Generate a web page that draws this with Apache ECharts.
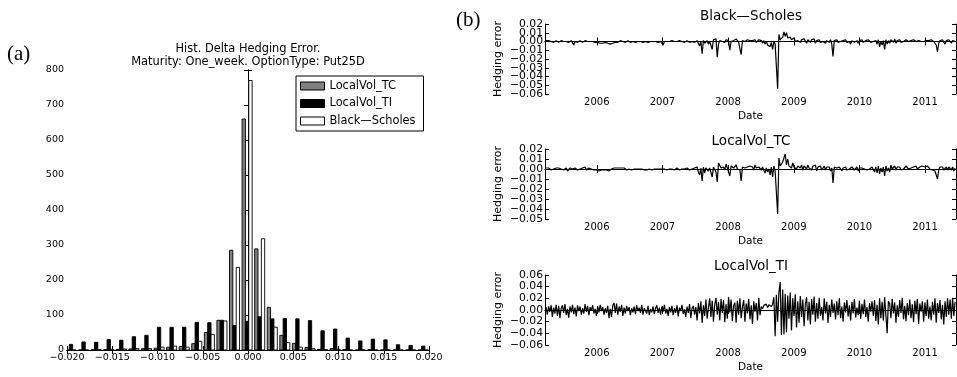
<!DOCTYPE html>
<html>
<head>
<meta charset="utf-8">
<script src="https://cdn.jsdelivr.net/npm/echarts@6/dist/echarts.min.js"></script>
<style>html,body{margin:0;padding:0;background:#fff}#c{width:957px;height:377px}</style>
</head>
<body>
<div id="c"></div>
<script>
// ---------- (a) histogram data ----------
const binCenters = [-0.01956,-0.01817,-0.01678,-0.01539,-0.0140,-0.01261,-0.01122,-0.00983,-0.00844,-0.00705,
  -0.00566,-0.00427,-0.00288,-0.00149,-0.0001,0.00129,0.00268,0.00407,0.00546,0.00685,
  0.00824,0.00963,0.01102,0.01241,0.0138,0.01519,0.01658,0.01797,0.01936];
const binWidth = 0.00139;
const histTC = [0,0,1,1,2,3,4,5,8,10,18,50,85,285,660,289,122,42,19,7,2,4,1,0,1,0,0,0,0];
const histTI = [16,23,22,30,28,38,42,65,65,65,79,78,85,70,82,95,89,90,89,84,55,60,34,26,31,29,15,13,11];
const histBS = [0,0,1,2,3,4,4,8,11,8,25,44,83,236,770,318,65,21,8,4,1,2,0,0,0,0,0,0,0];

// ---------- (b) tick labels of the crowded error axes (split in two interleaved sets) ----------
const bsYLabelsA = [-0.06, -0.04, -0.02, 0.00, 0.02];
const bsYLabelsB = [-0.05, -0.03, -0.01, 0.01];
const tcYLabelsA = [-0.05, -0.03, -0.01, 0.01];
const tcYLabelsB = [-0.04, -0.02, 0.00, 0.02];
const tiYLabels = [-0.06, -0.04, -0.02, 0.00, 0.02, 0.04, 0.06];

// ---------- (b) weekly hedging errors (read in units of 0.001) ----------
const ERR_UNIT = 0.001;
const firstWeek = Date.UTC(2005, 2, 25);
const WEEK_MS = 7 * 86400000;
const bsErr = [
 1,0,1,-1,0,1,-1,0,1,0,
 -1,0,1,-1,0,-2,0,1,-1,0,
 1,-1,-4,0,1,-1,0,1,0,-1,
 0,1,-1,0,1,0,-1,0,1,-1,
 0,-1,-1,-2,-1,-2,-2,-1,-2,-2,
 -1,-3,-1,-2,0,-1,1,-1,0,1,
 -1,0,1,-1,0,1,0,-1,-2,0,
 0,-1,0,0,1,0,0,-1,0,0,
 0,-1,0,0,1,0,-1,0,0,-1,
 0,0,-1,-4,0,1,0,-1,0,0,
 1,0,0,-1,0,0,1,-1,0,0,
 -1,0,1,0,-1,0,0,1,-1,0,
 1,-1,-5,0,-14,1,-2,0,1,-3,
 0,1,-9,2,0,3,-18,-3,1,2,
 0,1,-1,2,0,1,-10,0,2,1,
 0,3,1,-1,0,-15,1,2,0,1,
 2,0,1,3,1,0,2,-1,1,2,
 0,1,-2,1,-3,0,-4,-2,-6,-1,
 -9,0,-3,-5,-54,8,2,4,5,11,
 6,10,4,3,5,2,1,4,0,2,
 1,3,-1,2,0,3,1,-2,2,1,
 -1,2,0,3,-2,1,0,2,-1,1,
 0,2,-2,1,0,-1,2,-3,-17,1,
 0,2,-1,1,0,-2,1,0,2,-1,
 1,0,-3,1,2,-1,0,1,-2,1,
 0,2,-1,0,1,-1,2,0,-1,1,
 0,-2,1,-3,2,-6,0,-4,1,-9,
 2,-3,1,-2,2,0,-1,3,-2,1,
 0,2,-1,1,0,-1,2,1,0,2,
 1,0,2,1,0,-1,1,2,0,1,
 0,2,1,-1,1,0,2,1,0,-2,
 -4,-12,-2,1,-1,2,0,-3,1,-1,
 2,0,-2,1,-1,0];
const tcErr = [
 1,-1,1,0,-1,1,0,-1,1,0,
 1,-1,0,1,-1,0,1,-2,0,1,
 -1,0,-2,1,0,-1,1,0,-1,1,
 0,2,-1,0,1,-1,0,1,-1,0,
 -1,0,-2,-1,-1,-2,-1,-2,-1,0,
 -2,-1,0,-1,1,0,1,-1,1,0,
 1,0,1,0,-1,1,0,0,-1,0,
 0,-1,0,0,0,-1,0,0,-1,0,
 -1,-2,0,0,-1,0,0,-1,0,-1,
 0,-1,0,-2,0,0,-1,0,0,-1,
 0,0,-1,0,1,0,-1,0,0,1,
 0,-1,1,0,-1,1,0,-1,1,0,
 2,-3,-6,1,-12,2,-4,1,3,-2,
 1,3,-8,2,1,-3,-13,6,4,1,
 3,2,-1,5,1,2,-7,3,4,1,
 2,4,0,2,-1,-12,2,4,1,3,
 2,0,3,1,2,-1,4,1,0,2,
 1,-1,2,0,-4,1,-3,0,-6,2,
 -8,3,-2,-1,-45,11,3,5,7,9,
 15,4,10,3,5,1,6,2,4,0,
 3,5,1,4,-1,3,2,0,4,1,
 2,-1,3,1,4,-2,2,0,3,-1,
 1,3,-1,2,0,2,-2,1,-14,2,
 0,1,-1,2,0,-2,1,0,2,-1,
 1,0,-2,2,1,-1,0,2,-2,1,
 0,1,-1,0,2,-1,1,0,-1,2,
 0,-3,2,-4,3,-5,1,-3,2,-7,
 3,-2,1,-3,4,0,-2,3,-1,2,
 0,2,-1,1,0,-1,3,1,0,2,
 1,0,2,1,3,0,1,2,0,3,
 1,2,0,3,1,0,2,-1,0,-2,
 -3,-10,-1,2,0,2,-1,-3,2,-1,
 2,0,-1,2,-2,1];
const tiErr = [
 5,-8,6,-3,8,-12,4,-6,9,-10,
 7,-14,3,8,-5,10,-9,2,-13,6,
 -4,9,-7,4,-11,8,-2,6,-8,3,
 -6,10,-3,7,-9,5,-1,8,-6,2,
 -10,6,-4,9,-2,5,-8,3,-5,7,
 -14,2,-12,8,12,-5,11,-8,6,-3,
 9,-10,4,-6,7,-2,5,-9,3,-4,
 6,-7,8,-2,4,-5,9,-8,3,5,
 -6,7,-9,2,-4,6,-7,3,8,-5,
 4,-8,6,-3,9,-6,2,-10,5,-4,
 7,-9,3,-5,8,-11,4,-2,9,-7,
 1,-12,6,-5,10,-14,3,7,-8,5,
 -18,12,-6,15,-22,8,-10,18,-15,4,
 20,-12,16,-20,9,21,-8,14,-18,19,
 -5,17,-21,10,-15,22,-4,18,-19,7,
 13,-22,16,-8,20,-14,5,17,-20,11,
 -6,19,-16,8,-24,15,-3,12,-18,21,
 -9,6,2,8,5,10,4,9,12,6,
 10,22,-45,26,-20,30,48,-43,35,-42,
 28,-38,25,-15,30,-35,20,-10,27,-30,
 15,-22,24,-12,18,-28,10,22,-18,14,
 -25,19,-8,23,-20,12,-15,21,-10,5,
 -18,20,-6,14,-22,9,-12,18,-5,11,
 -16,15,-9,20,-14,6,-20,13,-4,17,
 -11,8,-18,14,-6,19,-13,4,-9,16,
 -15,10,-7,18,-12,5,-20,12,-3,15,
 -10,17,-19,9,-25,20,-14,14,-18,22,
 -8,-40,15,11,-14,19,-6,13,-22,8,
 -12,17,-5,21,-16,7,-19,12,-9,18,
 -14,10,-21,16,-7,19,-24,11,-3,15,
 -20,13,-10,18,-15,6,-18,14,-8,20,
 -22,12,-5,17,-16,9,-25,15,-12,20,
 -8,18,-15,21,-10,14];

// ---------- build ----------
const weekDates = bsErr.map((_, i) => firstWeek + i * WEEK_MS);
const toSeries = arr => arr.map((v, i) => [weekDates[i], v * ERR_UNIT]);
const FONT = 'DejaVu Sans';
const minus = s => s.replace('-', '\u2212');
const fmt2 = v => minus((Math.abs(v) < 1e-9 ? 0 : v).toFixed(2));

const histNames = ['LocalVol_TC', 'LocalVol_TI', 'Black\u2014Scholes'];
const histFill = ['#808080', '#000000', '#ffffff'];
const histSets = [histTC, histTI, histBS];

function histSeries(j) {
  return {
    type: 'custom', name: histNames[j], xAxisIndex: 0, yAxisIndex: 0, clip: true,
    itemStyle: { color: histFill[j], borderColor: '#000', borderWidth: 1 },
    encode: { x: 0, y: 1 },
    data: binCenters.map((c, i) => [c, histSets[j][i]]),
    renderItem: function (params, api) {
      const c = api.value(0), v = api.value(1);
      const w = binWidth * 0.8 / 3;
      const x0 = c - binWidth * 0.4 + j * w;
      const p0 = api.coord([x0, v]);
      const p1 = api.coord([x0 + w, 0]);
      return { type: 'rect',
        shape: { x: p0[0], y: p0[1], width: p1[0] - p0[0], height: p1[1] - p0[1] },
        style: { fill: histFill[j], stroke: '#000', lineWidth: 0.9 } };
    }
  };
}

const axLine = { show: true, lineStyle: { color: '#000', width: 1 } };
const axTick = { show: true, inside: true, length: 4, lineStyle: { color: '#000', width: 1 } };

function valAxis(extra) {
  return Object.assign({ type: 'value', axisLine: axLine, axisTick: axTick, splitLine: { show: false } }, extra);
}
const tMin = Date.UTC(2005, 2, 19), tMax = Date.UTC(2011, 5, 22);
const YEAR_MS = 365 * 86400000;
function timeAxis(grid, pos, withLabels) {
  return {
    type: 'time', gridIndex: grid, position: pos, min: tMin, max: tMax,
    minInterval: YEAR_MS, maxInterval: 366 * 86400000,
    axisLine: axLine, splitLine: { show: false },
    axisTick: axTick,
    axisLabel: withLabels ? { show: true, showMinLabel: false, showMaxLabel: false,
      formatter: v => String(new Date(v).getUTCFullYear()),
      color: '#000', fontSize: 10, fontFamily: FONT, margin: 3 } : { show: false },
    name: withLabels ? 'Date' : '', nameLocation: 'middle', nameGap: 17,
    nameTextStyle: { color: '#000', fontSize: 10.5, fontFamily: FONT }
  };
}
const errLabel = vals => ({ color: '#000', fontSize: 10.8, fontFamily: FONT, margin: 2,
  customValues: vals, showMinLabel: true, showMaxLabel: true, formatter: fmt2 });
function errY(grid, min, max, interval, labelsA, labelsB) {
  const axes = [
    valAxis({ gridIndex: grid, min: min, max: max, interval: interval,
      axisLabel: errLabel(labelsA),
      name: 'Hedging error', nameLocation: 'middle', nameRotate: 90, nameGap: 41,
      nameTextStyle: { color: '#000', fontSize: 11, fontFamily: FONT } }),
    valAxis({ gridIndex: grid, position: 'right', min: min, max: max, interval: interval, axisLabel: { show: false } })
  ];
  if (labelsB) {
    axes.push({ type: 'value', gridIndex: grid, position: 'left', min: min, max: max, interval: interval,
      axisLine: { show: false }, axisTick: { show: false }, splitLine: { show: false },
      axisLabel: errLabel(labelsB) });
  }
  return axes;
}

const titleStyle = size => ({ fontSize: size, fontWeight: 'normal', color: '#000', fontFamily: FONT });

const yAxes = [
  valAxis({ gridIndex: 0, min: 0, max: 800, interval: 100,
    axisLabel: { color: '#000', fontSize: 9.5, fontFamily: FONT, margin: 3 } }),
  valAxis({ gridIndex: 0, position: 'right', min: 0, max: 800, interval: 100, axisLabel: { show: false } })
];
const bsYIdx = yAxes.length; yAxes.push(...errY(1, -0.06, 0.02, 0.01, bsYLabelsA, bsYLabelsB));
const tcYIdx = yAxes.length; yAxes.push(...errY(2, -0.05, 0.02, 0.01, tcYLabelsA, tcYLabelsB));
const tiYIdx = yAxes.length; yAxes.push(...errY(3, -0.06, 0.06, 0.02, tiYLabels, null));

const option = {
  animation: false, useUTC: true, backgroundColor: '#fff',
  textStyle: { fontFamily: FONT },
  title: [
    { text: 'Hist. Delta Hedging Error.\nMaturity: One_week. OptionType: Put25D', left: 248, top: 43, textAlign: 'center', padding: 0,
      textStyle: Object.assign(titleStyle(11.4), { lineHeight: 12.4 }) },
    { text: 'Black\u2014Scholes', left: 751, top: 9, textAlign: 'center', padding: 0, textStyle: titleStyle(13.5) },
    { text: 'LocalVol_TC', left: 751, top: 134, textAlign: 'center', padding: 0, textStyle: titleStyle(13.5) },
    { text: 'LocalVol_TI', left: 751, top: 259, textAlign: 'center', padding: 0, textStyle: titleStyle(13.5) },
    { text: '(a)', left: 7, top: 44, padding: 0, textStyle: { fontSize: 21, fontWeight: 'normal', color: '#000', fontFamily: 'Liberation Serif' } },
    { text: '(b)', left: 456, top: 10, padding: 0, textStyle: { fontSize: 21, fontWeight: 'normal', color: '#000', fontFamily: 'Liberation Serif' } }
  ],
  legend: {
    orient: 'vertical', left: 296, top: 76, padding: [3, 8, 3, 4], itemWidth: 24, itemHeight: 8, itemGap: 3.5,
    borderColor: '#000', borderWidth: 1, backgroundColor: '#fff', selectedMode: false,
    textStyle: { fontSize: 11.4, color: '#000', fontFamily: FONT, lineHeight: 14 },
    data: histNames.map((n, j) => ({ name: n, icon: 'rect', itemStyle: { color: histFill[j], borderColor: '#000', borderWidth: 1 } }))
  },
  grid: [
    { left: 67, top: 70, width: 362, height: 280, containLabel: false, outerBoundsMode: 'none' },
    { left: 545, top: 24, right: 1, height: 70, containLabel: false, outerBoundsMode: 'none' },
    { left: 545, top: 149, right: 1, height: 70, containLabel: false, outerBoundsMode: 'none' },
    { left: 545, top: 275, right: 1, height: 70, containLabel: false, outerBoundsMode: 'none' }
  ],
  xAxis: [
    valAxis({ gridIndex: 0, min: -0.02, max: 0.02, interval: 0.005,
      axisLabel: { color: '#000', fontSize: 9.5, fontFamily: FONT, margin: 3, formatter: v => minus(v.toFixed(3)) } }),
    valAxis({ gridIndex: 0, position: 'top', min: -0.02, max: 0.02, interval: 0.005, axisLabel: { show: false } }),
    timeAxis(1, 'bottom', true), timeAxis(1, 'top', false),
    timeAxis(2, 'bottom', true), timeAxis(2, 'top', false),
    timeAxis(3, 'bottom', true), timeAxis(3, 'top', false)
  ],
  yAxis: yAxes,
  series: [
    histSeries(0), histSeries(1), histSeries(2),
    { type: 'line', name: 'BS err', xAxisIndex: 2, yAxisIndex: bsYIdx, data: toSeries(bsErr), showSymbol: false,
      lineStyle: { color: '#000', width: 1.2 }, itemStyle: { color: '#000' }, silent: true },
    { type: 'line', name: 'TC err', xAxisIndex: 4, yAxisIndex: tcYIdx, data: toSeries(tcErr), showSymbol: false,
      lineStyle: { color: '#000', width: 1.2 }, itemStyle: { color: '#000' }, silent: true },
    { type: 'line', name: 'TI err', xAxisIndex: 6, yAxisIndex: tiYIdx, data: toSeries(tiErr), showSymbol: false,
      lineStyle: { color: '#000', width: 1.2 }, itemStyle: { color: '#000' }, silent: true }
  ]
};
const chart = echarts.init(document.getElementById('c'), null, { renderer: 'canvas' });
chart.setOption(option);
</script>
</body>
</html>
